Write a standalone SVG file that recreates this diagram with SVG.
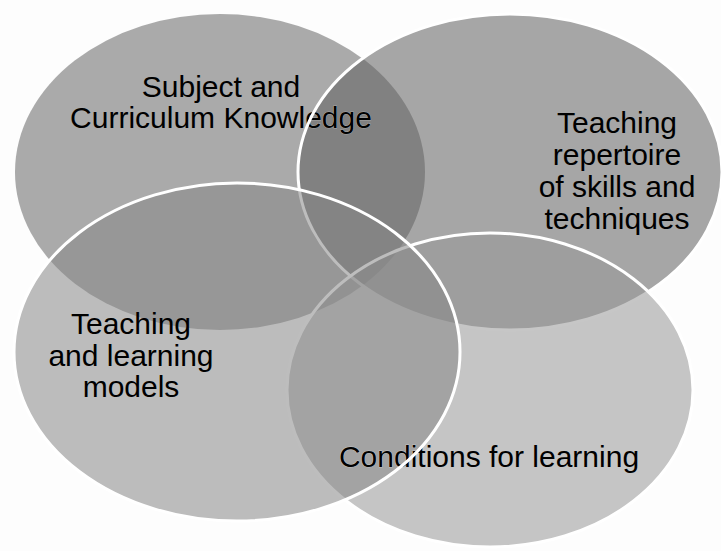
<svg xmlns="http://www.w3.org/2000/svg" width="721" height="551" viewBox="0 0 721 551">
<style>
.lbl{font-family:"Liberation Sans",Arial,Helvetica,sans-serif;font-size:30px;fill:#000;text-anchor:middle}
.fill{fill-opacity:0.55;stroke:none}
.outline{fill:none;stroke:#fff;stroke-width:3}
.hole{fill:#000;stroke:#000;stroke-width:1}
</style>
<defs>
<mask id="m2" maskUnits="userSpaceOnUse" x="0" y="0" width="721" height="551">
<rect x="0" y="0" width="721" height="551" fill="#fff"/>
<text class="lbl hole" x="221" y="128">Curriculum Knowledge</text>
</mask>
<mask id="m3" maskUnits="userSpaceOnUse" x="0" y="0" width="721" height="551">
<rect x="0" y="0" width="721" height="551" fill="#fff"/>
<text class="lbl hole" x="489" y="467">Conditions for learning</text>
</mask>
</defs>
<rect x="0" y="0" width="721" height="551" fill="#fdfdfd"/>
<g id="connectors"></g>
<g id="n1">
<ellipse class="fill" cx="220" cy="172" rx="205" ry="158" fill="#666666"/>
<text class="lbl" x="221" y="97">Subject and</text>
<text class="lbl" x="221" y="128">Curriculum Knowledge</text>
</g>
<g id="n2">
<ellipse class="fill" cx="510" cy="172" rx="212" ry="158" fill="#5e5e5e" mask="url(#m2)"/>
<ellipse class="outline" cx="510" cy="172" rx="212" ry="158"/>
<text class="lbl" x="617" y="133">Teaching</text>
<text class="lbl" x="617" y="165">repertoire</text>
<text class="lbl" x="617" y="197">of skills and</text>
<text class="lbl" x="617" y="229">techniques</text>
</g>
<g id="n4">
<ellipse class="fill" cx="490" cy="390" rx="203" ry="157" fill="#979797"/>
<ellipse class="outline" cx="490" cy="390" rx="203" ry="157"/>
<text class="lbl" x="489" y="467">Conditions for learning</text>
</g>
<g id="n3">
<ellipse class="fill" cx="237" cy="352" rx="223" ry="169" fill="#878787" mask="url(#m3)"/>
<ellipse class="outline" cx="237" cy="352" rx="223" ry="169"/>
<text class="lbl" x="131" y="334">Teaching</text>
<text class="lbl" x="131" y="366">and learning</text>
<text class="lbl" x="131" y="397">models</text>
</g>
</svg>
